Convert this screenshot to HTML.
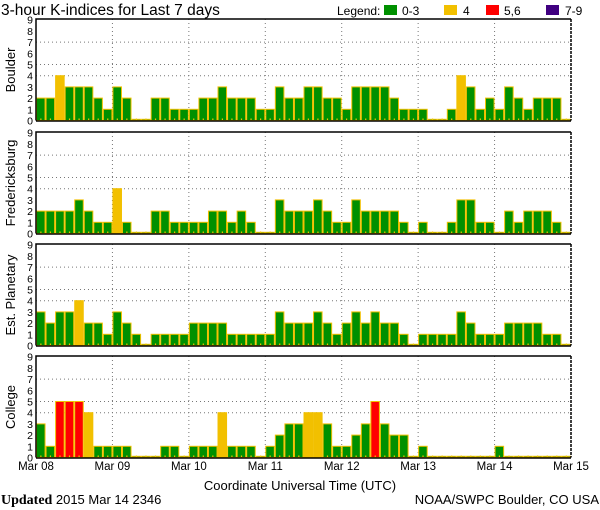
<!DOCTYPE html>
<html><head><meta charset="utf-8"><style>
body{margin:0;background:#fff;}
svg{display:block;font-family:"Liberation Sans",sans-serif;}
</style></head><body>
<svg id="chart" width="600" height="510" viewBox="0 0 600 510" xmlns="http://www.w3.org/2000/svg">
<text x="1" y="15" font-size="15.5">3-hour K-indices for Last 7 days</text>
<g font-size="12">
<text x="337" y="15">Legend:</text>
<rect x="384" y="5" width="13" height="10" fill="#009000"/><text x="402" y="15">0-3</text>
<rect x="444" y="5" width="13" height="10" fill="#f2c000"/><text x="463" y="15">4</text>
<rect x="486" y="5" width="13" height="10" fill="#ff0000"/><text x="504" y="15">5,6</text>
<rect x="546" y="5" width="13" height="10" fill="#400080"/><text x="565" y="15">7-9</text>
</g>
<g id="panels"></g>
<g id="xlabels" font-size="11.5"></g>
<text x="300" y="490" font-size="13" text-anchor="middle">Coordinate Universal Time (UTC)</text>
<text x="1" y="504" font-size="14" font-family="Liberation Serif, serif"><tspan font-weight="bold">Updated</tspan> <tspan font-family="Liberation Sans, sans-serif" font-size="13">2015 Mar 14 2346</tspan></text>
<text x="599" y="504" font-size="13" text-anchor="end">NOAA/SWPC Boulder, CO USA</text>
</svg>
<script>
const stations = ["Boulder","Fredericksburg","Est. Planetary","College"];
const boulder = [2,2,4,3,3,3,2,1,3,2,0,0,2,2,1,1,1,2,2,3,2,2,2,1,1,3,2,2, 3,3,2,2,1,3,3,3,3,2,1,1,1,0,0,1,4,3,1,2,1,3,2,1,2,2,2,0];
const fredericksburg = [2,2,2,2,3,2,1,1,4,1,0,0,2,2,1,1,1,1,2,2,1,2,1,0,0,3,2,2, 2,3,2,1,1,3,2,2,2,2,1,0,1,0,0,1,3,3,1,1,0,2,1,2,2,2,1,0];
const planetary = [3,2,3,3,4,2,2,1,3,2,1,0,1,1,1,1,2,2,2,2,1,1,1,1,1,3,2,2, 2,3,2,1,2,3,2,3,2,2,1,0,1,1,1,1,3,2,1,1,1,2,2,2,2,1,1,0];
const college = [3,1,5,5,5,4,1,1,1,1,0,0,0,1,1,0,1,1,1,4,1,1,1,0,1,2,3,3, 4,4,3,1,1,2,3,5,3,2,2,0,1,0,0,0,0,0,0,0,1,0,0,0,0,0,0,0];
const dayLabels = ["Mar 08","Mar 09","Mar 10","Mar 11","Mar 12","Mar 13","Mar 14","Mar 15"];
const yTicks = [0,1,2,3,4,5,6,7,8,9];
const seriesList = [boulder,fredericksburg,planetary,college];

const NS="http://www.w3.org/2000/svg";
const X0=36, X1=571, nBars=56;
const panelTops=[19,132,244,356], panelH=102, unit=11.2;
function xScale(i){return X0+(X1-X0)*i/nBars;}
function dayX(d){return X0+(X1-X0)*d/7;}
function mk(tag,attrs,parent){const e=document.createElementNS(NS,tag);for(const k in attrs)e.setAttribute(k,attrs[k]);parent.appendChild(e);return e;}
function color(k){return k>=7?"#400080":k>=5?"#ff0000":k>=4?"#f2c000":"#009000";}
const panels=document.getElementById('panels');
seriesList.forEach((data,p)=>{
  const top=panelTops[p], base=top+panelH-0.5;
  const yS=k=>base-k*unit;
  const g=mk('g',{},panels);
  
  
  [4,5,7].forEach(k=>{const l=mk('line',{x1:X0,x2:X1,y1:yS(k),y2:yS(k),stroke:'#777','stroke-dasharray':'1,3'},g);
    });
  for(let d=1;d<7;d++){const l=mk('line',{x1:dayX(d),x2:dayX(d),y1:top,y2:base,stroke:'#777','stroke-dasharray':'1,3'},g);
    }
  data.forEach((k,i)=>{
    const x=xScale(i), w=xScale(i+1)-x;
    const h=Math.max(k*unit,1.2);
    const r=mk('rect',{x:x+0.5,y:base-h,width:w-1,height:h,fill:color(k),stroke:'#f2c000','stroke-width':1},g);
    
    
    const t=mk('rect',{x:x+w/2-0.5,y:base-2,width:1.2,height:2,fill:'#f2c000'},g);
    
  });
  const ax=mk('path',{d:`M${X0},${base} L${X0},${top} L${X1},${top}`,fill:'none',stroke:'#000','stroke-width':1.5},g);
  
  const bl=mk('line',{x1:X0,x2:X1,y1:base+0.5,y2:base+0.5,stroke:'#000','stroke-width':1.5},g);
  
  const rl=mk('line',{x1:X1,x2:X1,y1:top,y2:base,stroke:'#000','stroke-width':1.5,'stroke-dasharray':'3,1'},g);
  
  yTicks.forEach(k=>{const t=mk('text',{x:33,y:yS(k)+4,'font-size':10.5,'text-anchor':'end'},g);t.textContent=k;
    });
  const cy=top+panelH/2;
  const lab=mk('text',{x:0,y:0,'font-size':13,'text-anchor':'middle',transform:`translate(15,${cy}) rotate(-90)`},g);
  lab.textContent=stations[p];
  
});
const xl=document.getElementById('xlabels');
dayLabels.forEach((s,d)=>{const t=mk('text',{x:dayX(d),y:470,'text-anchor':'middle'},xl);t.textContent=s;
  });
</script>
</body></html>
